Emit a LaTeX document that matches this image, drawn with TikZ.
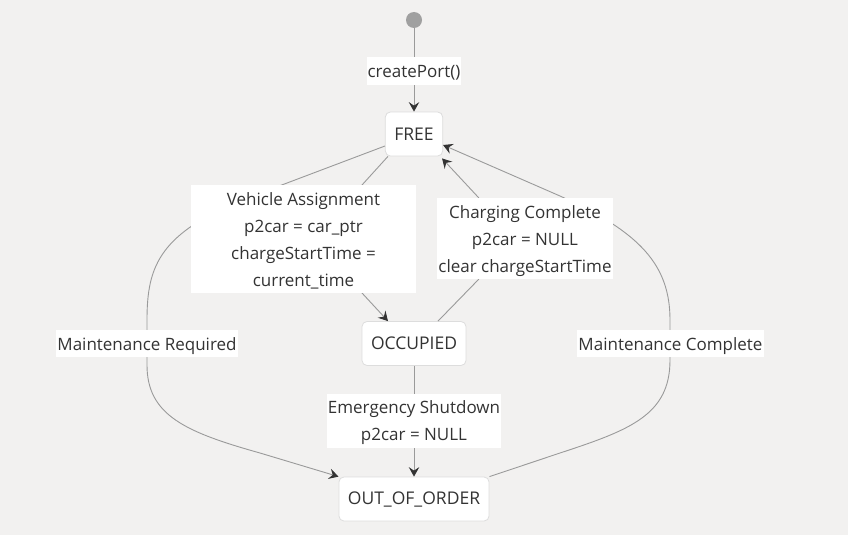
\documentclass[tikz,border=0pt]{standalone}
\usepackage{fontspec}
\setmainfont{Open Sans}
\usetikzlibrary{arrows.meta}
\definecolor{bgcol}{HTML}{F2F1F0}
\definecolor{linecol}{HTML}{9A9A9A}
\definecolor{startcol}{HTML}{A0A0A0}
\definecolor{tipcol}{HTML}{333333}
\definecolor{txtcol}{HTML}{333333}
\definecolor{boxline}{HTML}{DDDDDD}
\newcommand\lnstrut{\rule[-6.8pt]{0pt}{27pt}}

\begin{document}
\begin{tikzpicture}[x=1pt,y=-1pt,
  state/.style={draw=boxline,line width=0.8pt,fill=white,rounded corners=5pt,minimum height=44pt,inner xsep=9pt,text=txtcol,font=\fontsize{17.5}{21}\selectfont},
  lbl/.style={fill=white,inner xsep=1pt,inner ysep=0pt,align=center,text=txtcol,font=\fontsize{17}{27}\selectfont},
  edge/.style={draw=linecol,line width=0.9pt,-{Stealth[length=9.5pt,width=10.5pt,inset=3.5pt,color=tipcol]}}]
            \useasboundingbox[fill=bgcol] (0,0) rectangle (848,535);
            \node[circle,fill=startcol,minimum size=16pt,inner sep=0pt] (start) at (414,20) {};
            \node[state] (free) at (414,134) {FREE};
            \node[state] (occ) at (414,343.5) {OCCUPIED};
            \node[state] (ooo) at (414,499) {OUT\_OF\_ORDER};

            \draw[edge] (start) -- (free);
            \draw[edge] ([xshift=3pt]free.south west) -- (362,185) .. controls (340,207) and (340,271) .. (362,293) -- ([xshift=-26pt]occ.north);
            \draw[edge] ([xshift=24pt]occ.north) -- (478,280) .. controls (492,265) and (492,212) .. (478,197) -- ([xshift=-1pt,yshift=-2pt]free.south east);
            \draw[edge] ([yshift=-12pt]free.west) -- (250,197) .. controls (160,232) and (147,265) .. (147,320) -- (147,365) .. controls (147,415) and (185,432) .. (260,453) -- (ooo.north west);
            \draw[edge] (ooo.north east) -- (560,453) .. controls (630,430) and (670,415) .. (670,360) -- (670,320) .. controls (670,265) and (640,232) .. (560,196) -- ([yshift=-11pt]free.east);
            \draw[edge] (occ) -- (ooo);

            \node[lbl] (lcreate) at (414,71) {\lnstrut createPort()};
            \node[lbl,minimum width=225pt] (lassign) at (303.5,239) {\lnstrut Vehicle Assignment\\p2car = car\_ptr\\chargeStartTime =\\current\_time\lnstrut};
            \node[lbl] (lcharge) at (525,238.5) {\lnstrut Charging Complete\\p2car = NULL\\clear chargeStartTime\lnstrut};
            \node[lbl] (lmreq) at (147,343.5) {\lnstrut Maintenance Required};
            \node[lbl] (lmdone) at (670.5,343.5) {\lnstrut Maintenance Complete};
            \node[lbl] (lemerg) at (414,420.5) {\lnstrut Emergency Shutdown\\p2car = NULL\lnstrut};
        \end{tikzpicture}
\end{document}
